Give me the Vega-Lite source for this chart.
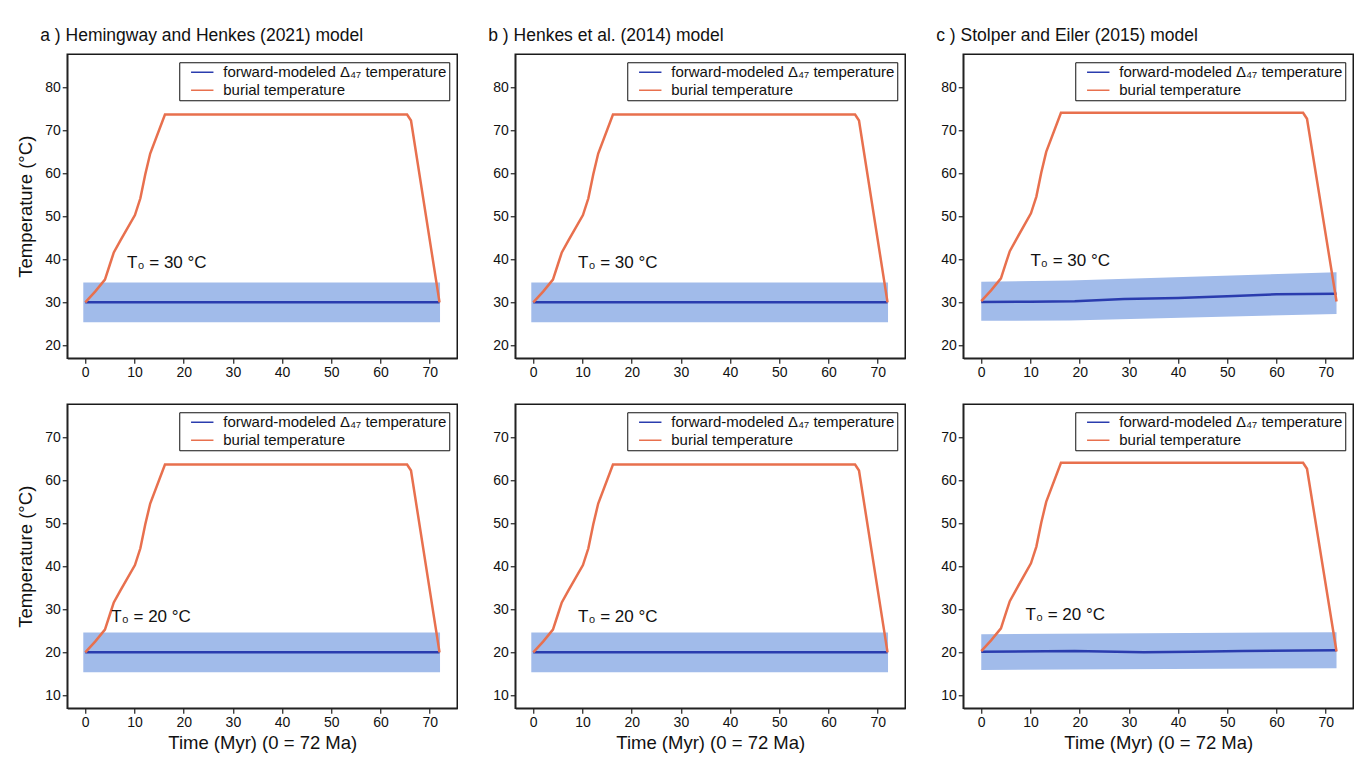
{
  "$schema": "https://vega.github.io/schema/vega-lite/v6.json",
  "background": "white",
  "padding": {"left": 15.25, "top": 25.25, "right": 0, "bottom": 0},
  "autosize": {"type": "pad"},
  "config": {
    "font": "Liberation Sans",
    "view": {"stroke": "#1a1a1a", "strokeWidth": 1.5},
    "axis": {"labelFont": "Liberation Sans", "labelFontSize": 14, "labelColor": "#111", "titleFont": "Liberation Sans", "titleFontSize": 18.5, "titleFontWeight": "normal", "titleColor": "#111", "tickColor": "#222", "domainColor": "#222", "domainWidth": 1.5, "tickWidth": 1.2, "tickSize": 5, "labelPadding": 2, "grid": false},
    "title": {"font": "Liberation Sans", "fontSize": 17.5, "fontWeight": "normal", "anchor": "start", "color": "#111"},
    "legend": {"title": null, "orient": "top-right", "offset": 8, "strokeColor": "#111", "fillColor": "white", "padding": 2, "symbolType": "M-1.6,0H1.6", "symbolSize": 196, "symbolStrokeWidth": 1.5, "symbolOffset": 13, "labelOffset": 13, "labelFontSize": 15, "labelFont": "Liberation Sans", "labelColor": "#111", "rowPadding": 2, "labelLimit": 400}
  },
  "datasets": {
    "burial": [
      {"panel": "a_top", "t": 0, "temp": 30}, {"panel": "a_top", "t": 2, "temp": 32.5}, {"panel": "a_top", "t": 4, "temp": 35.3}, {"panel": "a_top", "t": 5, "temp": 38.8}, {"panel": "a_top", "t": 5.8, "temp": 41.6}, {"panel": "a_top", "t": 7.1, "temp": 44.3}, {"panel": "a_top", "t": 10.1, "temp": 50.3}, {"panel": "a_top", "t": 11.2, "temp": 54.2}, {"panel": "a_top", "t": 12.2, "temp": 59.8}, {"panel": "a_top", "t": 13.2, "temp": 64.6}, {"panel": "a_top", "t": 16.2, "temp": 73.7}, {"panel": "a_top", "t": 65.4, "temp": 73.7}, {"panel": "a_top", "t": 66.2, "temp": 72.3}, {"panel": "a_top", "t": 72, "temp": 30},
      {"panel": "b_top", "t": 0, "temp": 30}, {"panel": "b_top", "t": 2, "temp": 32.5}, {"panel": "b_top", "t": 4, "temp": 35.3}, {"panel": "b_top", "t": 5, "temp": 38.8}, {"panel": "b_top", "t": 5.8, "temp": 41.6}, {"panel": "b_top", "t": 7.1, "temp": 44.3}, {"panel": "b_top", "t": 10.1, "temp": 50.3}, {"panel": "b_top", "t": 11.2, "temp": 54.2}, {"panel": "b_top", "t": 12.2, "temp": 59.8}, {"panel": "b_top", "t": 13.2, "temp": 64.6}, {"panel": "b_top", "t": 16.2, "temp": 73.7}, {"panel": "b_top", "t": 65.4, "temp": 73.7}, {"panel": "b_top", "t": 66.2, "temp": 72.3}, {"panel": "b_top", "t": 72, "temp": 30},
      {"panel": "c_top", "t": 0, "temp": 30.3}, {"panel": "c_top", "t": 2, "temp": 32.8}, {"panel": "c_top", "t": 4, "temp": 35.6}, {"panel": "c_top", "t": 5, "temp": 39.1}, {"panel": "c_top", "t": 5.8, "temp": 41.9}, {"panel": "c_top", "t": 7.1, "temp": 44.6}, {"panel": "c_top", "t": 10.1, "temp": 50.7}, {"panel": "c_top", "t": 11.2, "temp": 54.6}, {"panel": "c_top", "t": 12.2, "temp": 60.2}, {"panel": "c_top", "t": 13.2, "temp": 65}, {"panel": "c_top", "t": 16.2, "temp": 74.1}, {"panel": "c_top", "t": 65.4, "temp": 74.1}, {"panel": "c_top", "t": 66.2, "temp": 72.7}, {"panel": "c_top", "t": 72.2, "temp": 30.2},
      {"panel": "a_bot", "t": 0, "temp": 20}, {"panel": "a_bot", "t": 2, "temp": 22.5}, {"panel": "a_bot", "t": 4, "temp": 25.3}, {"panel": "a_bot", "t": 5, "temp": 28.8}, {"panel": "a_bot", "t": 5.8, "temp": 31.6}, {"panel": "a_bot", "t": 7.1, "temp": 34.3}, {"panel": "a_bot", "t": 10.1, "temp": 40.3}, {"panel": "a_bot", "t": 11.2, "temp": 44.2}, {"panel": "a_bot", "t": 12.2, "temp": 49.8}, {"panel": "a_bot", "t": 13.2, "temp": 54.6}, {"panel": "a_bot", "t": 16.2, "temp": 63.7}, {"panel": "a_bot", "t": 65.4, "temp": 63.7}, {"panel": "a_bot", "t": 66.2, "temp": 62.3}, {"panel": "a_bot", "t": 72, "temp": 20},
      {"panel": "b_bot", "t": 0, "temp": 20}, {"panel": "b_bot", "t": 2, "temp": 22.5}, {"panel": "b_bot", "t": 4, "temp": 25.3}, {"panel": "b_bot", "t": 5, "temp": 28.8}, {"panel": "b_bot", "t": 5.8, "temp": 31.6}, {"panel": "b_bot", "t": 7.1, "temp": 34.3}, {"panel": "b_bot", "t": 10.1, "temp": 40.3}, {"panel": "b_bot", "t": 11.2, "temp": 44.2}, {"panel": "b_bot", "t": 12.2, "temp": 49.8}, {"panel": "b_bot", "t": 13.2, "temp": 54.6}, {"panel": "b_bot", "t": 16.2, "temp": 63.7}, {"panel": "b_bot", "t": 65.4, "temp": 63.7}, {"panel": "b_bot", "t": 66.2, "temp": 62.3}, {"panel": "b_bot", "t": 72, "temp": 20},
      {"panel": "c_bot", "t": 0, "temp": 20.3}, {"panel": "c_bot", "t": 2, "temp": 22.8}, {"panel": "c_bot", "t": 4, "temp": 25.6}, {"panel": "c_bot", "t": 5, "temp": 29.1}, {"panel": "c_bot", "t": 5.8, "temp": 31.9}, {"panel": "c_bot", "t": 7.1, "temp": 34.6}, {"panel": "c_bot", "t": 10.1, "temp": 40.7}, {"panel": "c_bot", "t": 11.2, "temp": 44.6}, {"panel": "c_bot", "t": 12.2, "temp": 50.2}, {"panel": "c_bot", "t": 13.2, "temp": 55}, {"panel": "c_bot", "t": 16.2, "temp": 64.1}, {"panel": "c_bot", "t": 65.4, "temp": 64.1}, {"panel": "c_bot", "t": 66.2, "temp": 62.7}, {"panel": "c_bot", "t": 72.2, "temp": 20.2}
    ],
    "model": [
      {"panel": "a_top", "t": 0, "temp": 30}, {"panel": "a_top", "t": 72, "temp": 30},
      {"panel": "b_top", "t": 0, "temp": 30}, {"panel": "b_top", "t": 72, "temp": 30},
      {"panel": "c_top", "t": 0, "temp": 30.1}, {"panel": "c_top", "t": 10, "temp": 30.15}, {"panel": "c_top", "t": 19, "temp": 30.25}, {"panel": "c_top", "t": 29, "temp": 30.8}, {"panel": "c_top", "t": 40, "temp": 31.0}, {"panel": "c_top", "t": 50, "temp": 31.4}, {"panel": "c_top", "t": 60, "temp": 31.9}, {"panel": "c_top", "t": 72.2, "temp": 32.0},
      {"panel": "a_bot", "t": 0, "temp": 20}, {"panel": "a_bot", "t": 72, "temp": 20},
      {"panel": "b_bot", "t": 0, "temp": 20}, {"panel": "b_bot", "t": 72, "temp": 20},
      {"panel": "c_bot", "t": 0, "temp": 20.15}, {"panel": "c_bot", "t": 19, "temp": 20.3}, {"panel": "c_bot", "t": 33, "temp": 20.0}, {"panel": "c_bot", "t": 43, "temp": 20.15}, {"panel": "c_bot", "t": 53, "temp": 20.3}, {"panel": "c_bot", "t": 72.2, "temp": 20.5}
    ],
    "band": [
      {"panel": "a_top", "t": -0.4, "lo": 25.4, "hi": 34.6}, {"panel": "a_top", "t": 72.1, "lo": 25.4, "hi": 34.6},
      {"panel": "b_top", "t": -0.4, "lo": 25.4, "hi": 34.6}, {"panel": "b_top", "t": 72.1, "lo": 25.4, "hi": 34.6},
      {"panel": "c_top", "t": 0, "lo": 25.7, "hi": 34.8}, {"panel": "c_top", "t": 18, "lo": 25.8, "hi": 35.1}, {"panel": "c_top", "t": 72.2, "lo": 27.3, "hi": 37.0},
      {"panel": "a_bot", "t": -0.4, "lo": 15.4, "hi": 24.6}, {"panel": "a_bot", "t": 72.1, "lo": 15.4, "hi": 24.6},
      {"panel": "b_bot", "t": -0.4, "lo": 15.4, "hi": 24.6}, {"panel": "b_bot", "t": 72.1, "lo": 15.4, "hi": 24.6},
      {"panel": "c_bot", "t": 0, "lo": 15.9, "hi": 24.2}, {"panel": "c_bot", "t": 72.2, "lo": 16.3, "hi": 24.7}
    ]
  },
  "columns": 3,
  "spacing": {"row": 46, "column": 58},
  "bounds": "flush",
  "resolve": {"scale": {"x": "independent", "y": "independent", "color": "independent"}, "legend": {"color": "independent"}},
  "concat": [
    {
      "width": 390, "height": 304,
      "title": {"text": "a ) Hemingway and Henkes (2021) model", "anchor": "start", "frame": "group", "dx": -27, "offset": -4, "baseline": "alphabetic"},
      "encoding": {"x": {"field": "t", "type": "quantitative", "scale": {"domain": [-3.66, 75.6], "nice": false, "zero": false}, "axis": {"values": [0, 10, 20, 30, 40, 50, 60, 70], "title": null}}},
      "layer": [
        {"data": {"name": "band"}, "transform": [{"filter": "datum.panel === 'a_top'"}], "mark": {"type": "area", "color": "#a1bbea", "opacity": 1},
         "encoding": {"y": {"field": "lo", "type": "quantitative", "scale": {"domain": [17, 87.7], "nice": false, "zero": false}, "axis": {"values": [20, 30, 40, 50, 60, 70, 80], "title": "Temperature (°C)", "titlePadding": 9}}, "y2": {"field": "hi"}}},
        {"data": {"name": "model"}, "transform": [{"filter": "datum.panel === 'a_top'"}], "mark": {"type": "line", "strokeWidth": 2.5},
         "encoding": {"y": {"field": "temp", "type": "quantitative"}, "color": {"datum": "forward-modeled Δ₄₇ temperature", "scale": {"domain": ["forward-modeled Δ₄₇ temperature", "burial temperature"], "range": ["#2a3cae", "#e8704e"]}}}},
        {"data": {"name": "burial"}, "transform": [{"filter": "datum.panel === 'a_top'"}], "mark": {"type": "line", "strokeWidth": 2.5},
         "encoding": {"y": {"field": "temp", "type": "quantitative"}, "color": {"datum": "burial temperature"}}},
        {"data": {"values": [{"t": 8.5, "temp": 38.1, "label": "T₀ = 30 °C"}]}, "mark": {"type": "text", "align": "left", "baseline": "alphabetic", "fontSize": 17, "font": "Liberation Sans", "color": "#111"},
         "encoding": {"y": {"field": "temp", "type": "quantitative"}, "text": {"field": "label"}}}
      ]
    },
    {
      "width": 390, "height": 304,
      "title": {"text": "b ) Henkes et al. (2014) model", "anchor": "start", "frame": "group", "dx": -27, "offset": -4, "baseline": "alphabetic"},
      "encoding": {"x": {"field": "t", "type": "quantitative", "scale": {"domain": [-3.66, 75.6], "nice": false, "zero": false}, "axis": {"values": [0, 10, 20, 30, 40, 50, 60, 70], "title": null}}},
      "layer": [
        {"data": {"name": "band"}, "transform": [{"filter": "datum.panel === 'b_top'"}], "mark": {"type": "area", "color": "#a1bbea", "opacity": 1},
         "encoding": {"y": {"field": "lo", "type": "quantitative", "scale": {"domain": [17, 87.7], "nice": false, "zero": false}, "axis": {"values": [20, 30, 40, 50, 60, 70, 80], "title": null}}, "y2": {"field": "hi"}}},
        {"data": {"name": "model"}, "transform": [{"filter": "datum.panel === 'b_top'"}], "mark": {"type": "line", "strokeWidth": 2.5},
         "encoding": {"y": {"field": "temp", "type": "quantitative"}, "color": {"datum": "forward-modeled Δ₄₇ temperature", "scale": {"domain": ["forward-modeled Δ₄₇ temperature", "burial temperature"], "range": ["#2a3cae", "#e8704e"]}}}},
        {"data": {"name": "burial"}, "transform": [{"filter": "datum.panel === 'b_top'"}], "mark": {"type": "line", "strokeWidth": 2.5},
         "encoding": {"y": {"field": "temp", "type": "quantitative"}, "color": {"datum": "burial temperature"}}},
        {"data": {"values": [{"t": 9.1, "temp": 38.1, "label": "T₀ = 30 °C"}]}, "mark": {"type": "text", "align": "left", "baseline": "alphabetic", "fontSize": 17, "font": "Liberation Sans", "color": "#111"},
         "encoding": {"y": {"field": "temp", "type": "quantitative"}, "text": {"field": "label"}}}
      ]
    },
    {
      "width": 390, "height": 304,
      "title": {"text": "c ) Stolper and Eiler (2015) model", "anchor": "start", "frame": "group", "dx": -27, "offset": -4, "baseline": "alphabetic"},
      "encoding": {"x": {"field": "t", "type": "quantitative", "scale": {"domain": [-3.66, 75.6], "nice": false, "zero": false}, "axis": {"values": [0, 10, 20, 30, 40, 50, 60, 70], "title": null}}},
      "layer": [
        {"data": {"name": "band"}, "transform": [{"filter": "datum.panel === 'c_top'"}], "mark": {"type": "area", "color": "#a1bbea", "opacity": 1},
         "encoding": {"y": {"field": "lo", "type": "quantitative", "scale": {"domain": [17, 87.7], "nice": false, "zero": false}, "axis": {"values": [20, 30, 40, 50, 60, 70, 80], "title": null}}, "y2": {"field": "hi"}}},
        {"data": {"name": "model"}, "transform": [{"filter": "datum.panel === 'c_top'"}], "mark": {"type": "line", "strokeWidth": 2.5},
         "encoding": {"y": {"field": "temp", "type": "quantitative"}, "color": {"datum": "forward-modeled Δ₄₇ temperature", "scale": {"domain": ["forward-modeled Δ₄₇ temperature", "burial temperature"], "range": ["#2a3cae", "#e8704e"]}}}},
        {"data": {"name": "burial"}, "transform": [{"filter": "datum.panel === 'c_top'"}], "mark": {"type": "line", "strokeWidth": 2.5},
         "encoding": {"y": {"field": "temp", "type": "quantitative"}, "color": {"datum": "burial temperature"}}},
        {"data": {"values": [{"t": 10.0, "temp": 38.4, "label": "T₀ = 30 °C"}]}, "mark": {"type": "text", "align": "left", "baseline": "alphabetic", "fontSize": 17, "font": "Liberation Sans", "color": "#111"},
         "encoding": {"y": {"field": "temp", "type": "quantitative"}, "text": {"field": "label"}}}
      ]
    },
    {
      "width": 390, "height": 304,
      "encoding": {"x": {"field": "t", "type": "quantitative", "scale": {"domain": [-3.66, 75.6], "nice": false, "zero": false}, "axis": {"values": [0, 10, 20, 30, 40, 50, 60, 70], "title": "Time (Myr) (0 = 72 Ma)", "titlePadding": 4}}},
      "layer": [
        {"data": {"name": "band"}, "transform": [{"filter": "datum.panel === 'a_bot'"}], "mark": {"type": "area", "color": "#a1bbea", "opacity": 1},
         "encoding": {"y": {"field": "lo", "type": "quantitative", "scale": {"domain": [7, 77.7], "nice": false, "zero": false}, "axis": {"values": [10, 20, 30, 40, 50, 60, 70], "title": "Temperature (°C)", "titlePadding": 9}}, "y2": {"field": "hi"}}},
        {"data": {"name": "model"}, "transform": [{"filter": "datum.panel === 'a_bot'"}], "mark": {"type": "line", "strokeWidth": 2.5},
         "encoding": {"y": {"field": "temp", "type": "quantitative"}, "color": {"datum": "forward-modeled Δ₄₇ temperature", "scale": {"domain": ["forward-modeled Δ₄₇ temperature", "burial temperature"], "range": ["#2a3cae", "#e8704e"]}}}},
        {"data": {"name": "burial"}, "transform": [{"filter": "datum.panel === 'a_bot'"}], "mark": {"type": "line", "strokeWidth": 2.5},
         "encoding": {"y": {"field": "temp", "type": "quantitative"}, "color": {"datum": "burial temperature"}}},
        {"data": {"values": [{"t": 5.3, "temp": 27.0, "label": "T₀ = 20 °C"}]}, "mark": {"type": "text", "align": "left", "baseline": "alphabetic", "fontSize": 17, "font": "Liberation Sans", "color": "#111"},
         "encoding": {"y": {"field": "temp", "type": "quantitative"}, "text": {"field": "label"}}}
      ]
    },
    {
      "width": 390, "height": 304,
      "encoding": {"x": {"field": "t", "type": "quantitative", "scale": {"domain": [-3.66, 75.6], "nice": false, "zero": false}, "axis": {"values": [0, 10, 20, 30, 40, 50, 60, 70], "title": "Time (Myr) (0 = 72 Ma)", "titlePadding": 4}}},
      "layer": [
        {"data": {"name": "band"}, "transform": [{"filter": "datum.panel === 'b_bot'"}], "mark": {"type": "area", "color": "#a1bbea", "opacity": 1},
         "encoding": {"y": {"field": "lo", "type": "quantitative", "scale": {"domain": [7, 77.7], "nice": false, "zero": false}, "axis": {"values": [10, 20, 30, 40, 50, 60, 70], "title": null}}, "y2": {"field": "hi"}}},
        {"data": {"name": "model"}, "transform": [{"filter": "datum.panel === 'b_bot'"}], "mark": {"type": "line", "strokeWidth": 2.5},
         "encoding": {"y": {"field": "temp", "type": "quantitative"}, "color": {"datum": "forward-modeled Δ₄₇ temperature", "scale": {"domain": ["forward-modeled Δ₄₇ temperature", "burial temperature"], "range": ["#2a3cae", "#e8704e"]}}}},
        {"data": {"name": "burial"}, "transform": [{"filter": "datum.panel === 'b_bot'"}], "mark": {"type": "line", "strokeWidth": 2.5},
         "encoding": {"y": {"field": "temp", "type": "quantitative"}, "color": {"datum": "burial temperature"}}},
        {"data": {"values": [{"t": 9.1, "temp": 27.1, "label": "T₀ = 20 °C"}]}, "mark": {"type": "text", "align": "left", "baseline": "alphabetic", "fontSize": 17, "font": "Liberation Sans", "color": "#111"},
         "encoding": {"y": {"field": "temp", "type": "quantitative"}, "text": {"field": "label"}}}
      ]
    },
    {
      "width": 390, "height": 304,
      "encoding": {"x": {"field": "t", "type": "quantitative", "scale": {"domain": [-3.66, 75.6], "nice": false, "zero": false}, "axis": {"values": [0, 10, 20, 30, 40, 50, 60, 70], "title": "Time (Myr) (0 = 72 Ma)", "titlePadding": 4}}},
      "layer": [
        {"data": {"name": "band"}, "transform": [{"filter": "datum.panel === 'c_bot'"}], "mark": {"type": "area", "color": "#a1bbea", "opacity": 1},
         "encoding": {"y": {"field": "lo", "type": "quantitative", "scale": {"domain": [7, 77.7], "nice": false, "zero": false}, "axis": {"values": [10, 20, 30, 40, 50, 60, 70], "title": null}}, "y2": {"field": "hi"}}},
        {"data": {"name": "model"}, "transform": [{"filter": "datum.panel === 'c_bot'"}], "mark": {"type": "line", "strokeWidth": 2.5},
         "encoding": {"y": {"field": "temp", "type": "quantitative"}, "color": {"datum": "forward-modeled Δ₄₇ temperature", "scale": {"domain": ["forward-modeled Δ₄₇ temperature", "burial temperature"], "range": ["#2a3cae", "#e8704e"]}}}},
        {"data": {"name": "burial"}, "transform": [{"filter": "datum.panel === 'c_bot'"}], "mark": {"type": "line", "strokeWidth": 2.5},
         "encoding": {"y": {"field": "temp", "type": "quantitative"}, "color": {"datum": "burial temperature"}}},
        {"data": {"values": [{"t": 9.0, "temp": 27.5, "label": "T₀ = 20 °C"}]}, "mark": {"type": "text", "align": "left", "baseline": "alphabetic", "fontSize": 17, "font": "Liberation Sans", "color": "#111"},
         "encoding": {"y": {"field": "temp", "type": "quantitative"}, "text": {"field": "label"}}}
      ]
    }
  ]
}
